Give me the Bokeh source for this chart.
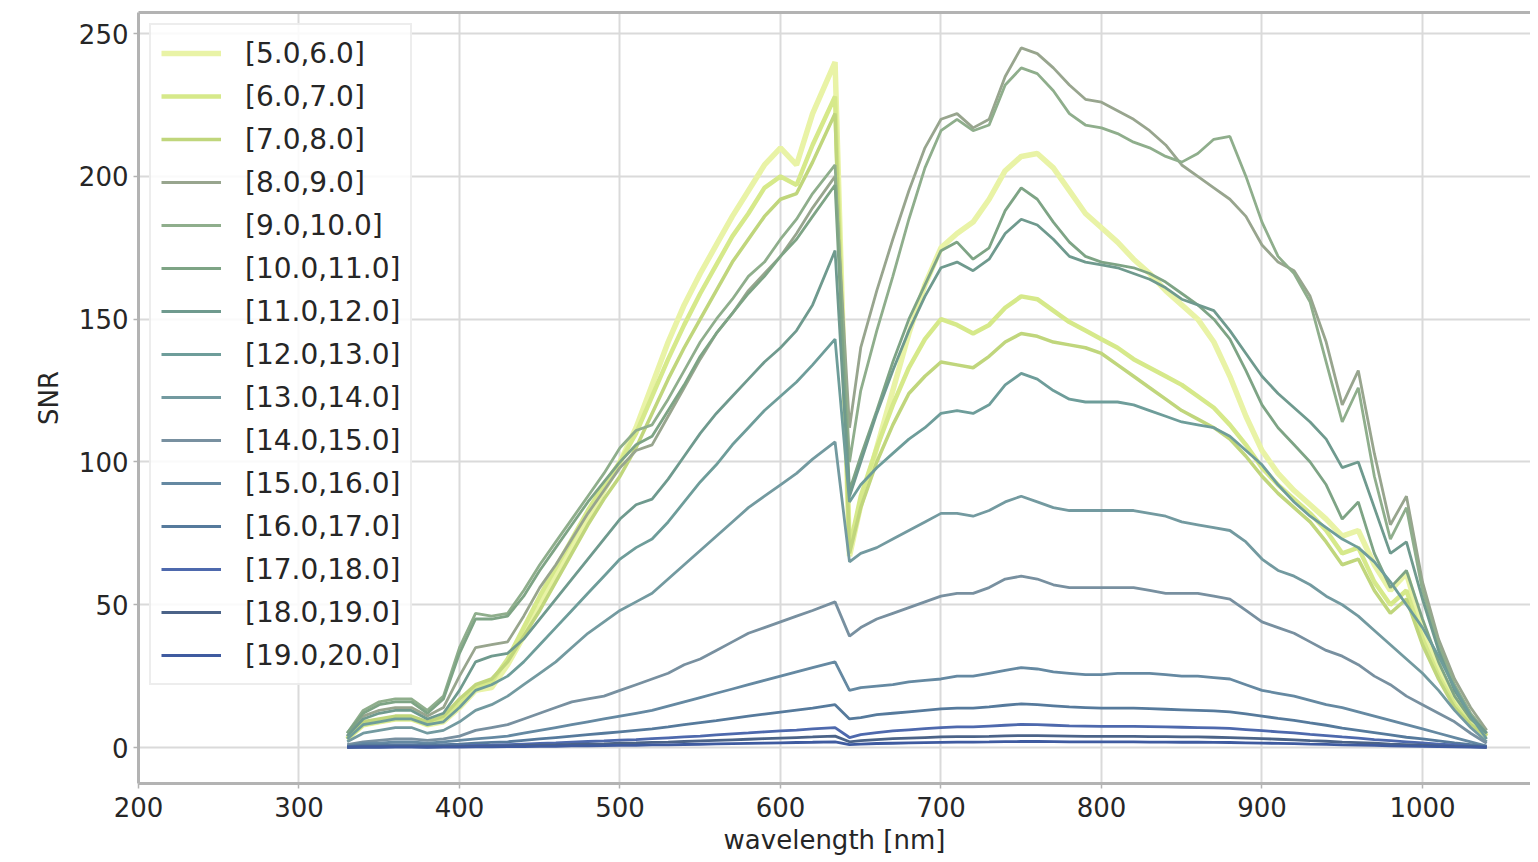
from bokeh.plotting import figure
from bokeh.models import Range1d, FixedTicker, LinearAxis
from bokeh.embed import file_html
from bokeh.resources import INLINE

wavelength = [330, 340, 350, 360, 370, 380, 390, 400, 410, 420, 430, 440, 450, 460, 470,
              480, 490, 500, 510, 520, 530, 540, 550, 560, 570, 580, 590, 600, 610, 620,
              634, 643, 650, 660, 670, 680, 690, 700, 710, 720, 730, 740, 750, 760, 770,
              780, 790, 800, 810, 820, 830, 840, 850, 860, 870, 880, 890, 900, 910, 920,
              930, 940, 950, 960, 970, 980, 990, 1000, 1010, 1020, 1030, 1040]

labels = ["[5.0,6.0]", "[6.0,7.0]", "[7.0,8.0]", "[8.0,9.0]", "[9.0,10.0]",
          "[10.0,11.0]", "[11.0,12.0]", "[12.0,13.0]", "[13.0,14.0]", "[14.0,15.0]",
          "[15.0,16.0]", "[16.0,17.0]", "[17.0,18.0]", "[18.0,19.0]", "[19.0,20.0]"]

snr_05_06 = [3, 8, 9, 10, 10, 8, 9, 14, 20, 21, 29, 39, 50, 60, 70, 80, 90, 100, 112, 127,
             142, 155, 166, 176, 186, 195, 204, 210, 204, 222, 240,
             67, 85, 105, 125, 145, 162, 175, 180, 184, 192, 202, 207, 208, 203, 195, 187,
             182, 177, 171, 166, 160, 155, 150, 142, 130, 116, 104, 96, 90, 85, 80, 74, 76,
             64, 55, 61, 42, 28, 17, 9, 4]
snr_06_07 = [3, 8, 9, 10, 10, 8, 10, 15, 21, 23, 31, 42, 53, 63, 73, 83, 92, 100, 110, 123,
             136, 148, 159, 169, 179, 187, 196, 200, 197, 211, 228,
             70, 88, 105, 120, 133, 143, 150, 148, 145, 148, 154, 158, 157, 153, 149, 146,
             143, 140, 136, 133, 130, 127, 123, 119, 113, 106, 98, 92, 87, 82, 76, 68, 70,
             58, 50, 55, 38, 25, 15, 8, 4]
snr_07_08 = [3, 9, 10, 11, 11, 9, 11, 17, 22, 24, 30, 39, 48, 58, 68, 78, 87, 95, 105, 117,
             129, 140, 150, 160, 170, 178, 186, 192, 194, 205, 222,
             68, 84, 100, 113, 124, 130, 135, 134, 133, 137, 142, 145, 144, 142, 141, 140,
             138, 134, 130, 126, 122, 118, 115, 112, 108, 102, 95, 89, 84, 79, 72, 64, 66,
             55, 47, 52, 36, 24, 14, 8, 4]
snr_08_09 = [4, 11, 13, 14, 14, 11, 14, 25, 35, 36, 37, 46, 56, 64, 73, 82, 90, 98, 104, 106,
             116, 126, 136, 145, 152, 160, 166, 172, 180, 189, 200,
             112, 140, 160, 178, 195, 210, 220, 222, 217, 220, 235, 245, 243, 238, 232, 227,
             226, 223, 220, 216, 211, 204, 200, 196, 192, 186, 176, 170, 167, 158, 142, 120,
             132, 103, 78, 88, 58, 38, 24, 14, 6]
snr_09_10 = [5, 13, 16, 17, 17, 13, 18, 35, 47, 46, 47, 55, 64, 72, 80, 88, 96, 105, 111, 113,
             122, 132, 142, 150, 157, 165, 170, 178, 185, 194, 204,
             100, 125, 146, 165, 185, 203, 216, 220, 216, 218, 232, 238, 236, 230, 222, 218,
             217, 215, 212, 210, 207, 205, 208, 213, 214, 200, 184, 172, 166, 156, 135, 114,
             126, 95, 73, 84, 55, 36, 22, 12, 5]
snr_10_11 = [5, 12, 15, 16, 16, 12, 17, 33, 45, 45, 46, 53, 62, 70, 78, 86, 93, 100, 106, 109,
             118, 127, 137, 145, 152, 159, 165, 172, 178, 186, 197,
             90, 102, 118, 135, 150, 162, 174, 177, 171, 175, 188, 196, 192, 184, 177, 172,
             170, 169, 168, 166, 163, 159, 155, 150, 143, 132, 120, 112, 106, 100, 92, 80,
             86, 68, 56, 62, 45, 30, 18, 10, 5]
snr_11_12 = [4, 10, 12, 13, 13, 10, 12, 20, 30, 32, 33, 38, 45, 52, 59, 66, 73, 80, 85, 87,
             94, 102, 110, 117, 123, 129, 135, 140, 146, 155, 174,
             88, 100, 117, 132, 146, 158, 168, 170, 167, 171, 180, 185, 183, 178, 172, 170,
             169, 168, 166, 164, 161, 157, 155, 153, 146, 138, 130, 124, 119, 114, 108, 98,
             100, 84, 68, 72, 52, 34, 20, 11, 5]
snr_12_13 = [3, 8, 9, 10, 10, 8, 9, 14, 20, 22, 25, 30, 36, 42, 48, 54, 60, 66, 70, 73,
             79, 86, 93, 99, 106, 112, 118, 123, 128, 134, 143,
             86, 92, 98, 103, 108, 112, 117, 118, 117, 120, 127, 131, 129, 125, 122, 121,
             121, 121, 120, 118, 116, 114, 113, 112, 109, 104, 99, 92, 86, 81, 77, 73, 70,
             65, 58, 50, 42, 32, 21, 11, 3]
snr_13_14 = [2, 5, 6, 7, 7, 5, 6, 9, 13, 15, 18, 22, 26, 30, 35, 40, 44, 48, 51, 54,
             59, 64, 69, 74, 79, 84, 88, 92, 96, 101, 107,
             65, 68, 70, 73, 76, 79, 82, 82, 81, 83, 86, 88, 86, 84, 83, 83, 83, 83, 83, 82,
             81, 79, 78, 77, 76, 72, 66, 62, 60, 57, 53, 50, 46, 41, 36, 31, 26, 20, 13, 7, 2]
snr_14_15 = [1, 2, 2.5, 3, 3, 2.5, 3, 4, 6, 7, 8, 10, 12, 14, 16, 17, 18, 20, 22, 24,
             26, 29, 31, 34, 37, 40, 42, 44, 46, 48, 51,
             39, 42, 45, 47, 49, 51, 53, 54, 54, 56, 59, 60, 59, 57, 56, 56, 56, 56, 56, 55,
             54, 54, 54, 53, 52, 48, 44, 42, 40, 37, 34, 32, 29, 25, 22, 18, 15, 12, 9, 5, 1.5]
snr_15_16 = [0.5, 1.5, 1.5, 2, 2, 1.5, 2, 2.5, 3, 3.5, 4, 5, 6, 7, 8, 9, 10, 11, 12, 13,
             14.5, 16, 17.5, 19, 20.5, 22, 23.5, 25, 26.5, 28, 30,
             20, 21, 21.5, 22, 23, 23.5, 24, 25, 25, 26, 27, 28, 27.5, 26.5, 26, 25.5, 25.5,
             26, 26, 26, 25.5, 25, 25, 24.5, 24, 22, 20, 19, 18, 16.5, 15, 14, 12.5, 11, 9.5,
             8, 6.5, 5, 3.5, 2, 0.5]
snr_16_17 = [0.3, 0.8, 0.8, 1, 1, 0.8, 1, 1.2, 1.5, 1.8, 2, 2.5, 3, 3.5, 4, 4.5, 5, 5.5, 6,
             6.5, 7.2, 8, 8.7, 9.4, 10.2, 11, 11.7, 12.4, 13.1, 13.8, 15,
             10, 10.5, 11.5, 12, 12.5, 13, 13.5, 13.8, 13.8, 14.2, 14.8, 15.3, 15, 14.6, 14.2,
             14, 13.8, 13.8, 13.8, 13.6, 13.4, 13.2, 13, 12.8, 12.5, 11.8, 11, 10.2, 9.5, 8.6,
             7.8, 6.8, 6, 5.2, 4.4, 3.6, 3, 2.3, 1.6, 1, 0.4]
snr_17_18 = [0.2, 0.4, 0.4, 0.5, 0.5, 0.4, 0.5, 0.6, 0.7, 0.8, 1, 1.2, 1.4, 1.6, 1.9, 2.1,
             2.3, 2.6, 2.8, 3.1, 3.4, 3.7, 4, 4.4, 4.8, 5.1, 5.5, 5.8, 6.1, 6.5, 7,
             3.5, 4.5, 5.2, 5.8, 6.2, 6.6, 7, 7.2, 7.2, 7.5, 7.8, 8.1, 8, 7.8, 7.6, 7.5, 7.4,
             7.4, 7.4, 7.3, 7.2, 7.1, 7, 6.9, 6.7, 6.3, 5.9, 5.5, 5.1, 4.6, 4.2, 3.7, 3.3,
             2.8, 2.4, 2, 1.6, 1.2, 0.9, 0.5, 0.2]
snr_18_19 = [0.1, 0.2, 0.2, 0.3, 0.3, 0.2, 0.3, 0.3, 0.4, 0.5, 0.6, 0.7, 0.8, 0.9, 1.1, 1.2,
             1.3, 1.5, 1.6, 1.8, 1.9, 2.1, 2.3, 2.5, 2.7, 2.9, 3.1, 3.3, 3.5, 3.7, 4,
             2, 2.4, 2.8, 3.1, 3.3, 3.5, 3.7, 3.8, 3.8, 3.9, 4.1, 4.2, 4.2, 4.1, 4, 3.9, 3.9,
             3.9, 3.9, 3.8, 3.8, 3.7, 3.7, 3.6, 3.5, 3.3, 3.1, 2.9, 2.7, 2.4, 2.2, 1.9, 1.7,
             1.5, 1.2, 1, 0.8, 0.6, 0.4, 0.3, 0.1]
snr_19_20 = [0.05, 0.1, 0.1, 0.15, 0.15, 0.1, 0.15, 0.15, 0.2, 0.25, 0.3, 0.35, 0.4, 0.45,
             0.55, 0.6, 0.65, 0.75, 0.8, 0.9, 0.95, 1.05, 1.15, 1.25, 1.35, 1.45, 1.55, 1.65,
             1.75, 1.85, 2,
             1, 1.2, 1.4, 1.5, 1.6, 1.7, 1.8, 1.9, 1.9, 1.95, 2.05, 2.1, 2.1, 2.05, 2, 1.95,
             1.95, 1.95, 1.95, 1.9, 1.9, 1.85, 1.85, 1.8, 1.75, 1.65, 1.55, 1.45, 1.35, 1.2,
             1.1, 0.95, 0.85, 0.75, 0.6, 0.5, 0.4, 0.3, 0.2, 0.15, 0.05]

series = [snr_05_06, snr_06_07, snr_07_08, snr_08_09, snr_09_10, snr_10_11, snr_11_12,
          snr_12_13, snr_13_14, snr_14_15, snr_15_16, snr_16_17, snr_17_18, snr_18_19,
          snr_19_20]

colors = ["#e9f3a6", "#d6e98a", "#c0d67c", "#98a58e", "#8fae8c", "#7ea485", "#6f9a8e",
          "#6e9d9a", "#739aa0", "#7890a0", "#6589a2", "#567a9c", "#4e69ad", "#4b6388",
          "#3f5ba0"]
widths = [5.5, 4.5, 3.5, 2.8, 2.8, 2.8, 2.8, 2.8, 2.8, 2.8, 2.8, 2.8, 2.8, 2.8, 2.8]

FONT = "DejaVu Sans"
GRID = "#dadada"
SPINE = "#b3b3b3"

p = figure(width=1530, height=862,
           x_range=Range1d(200, 1067.3), y_range=Range1d(-12.6, 257.4),
           output_backend="svg", toolbar_location=None,
           min_border_left=138, min_border_right=0, min_border_top=12,
           min_border_bottom=79, background_fill_color="white",
           border_fill_color="white")
p.outline_line_color = None

for vals, lab, col, w in zip(series, labels, colors, widths):
    p.line(wavelength, vals, line_color=col, line_width=w, legend_label=lab)

xt = FixedTicker(ticks=[200, 300, 400, 500, 600, 700, 800, 900, 1000])
yt = FixedTicker(ticks=[0, 50, 100, 150, 200, 250])

for ax, tk in ((p.xaxis[0], xt), (p.yaxis[0], yt)):
    ax.ticker = tk
    ax.major_label_text_font = FONT
    ax.major_label_text_font_size = "26px"
    ax.major_label_text_color = "#262626"
    ax.major_tick_out = 5
    ax.major_tick_in = 0
    ax.major_tick_line_color = SPINE
    ax.major_tick_line_width = 1.5
    ax.minor_tick_line_color = None
    ax.axis_line_color = SPINE
    ax.axis_line_width = 3
    ax.major_label_standoff = 6
    ax.axis_label_text_font = FONT
    ax.axis_label_text_font_size = "26px"
    ax.axis_label_text_font_style = "normal"
    ax.axis_label_text_color = "#262626"

p.xaxis[0].axis_label = "wavelength [nm]"
p.xaxis[0].major_label_standoff = 8
p.xaxis[0].axis_label_standoff = 5
p.yaxis[0].axis_label = "SNR"
p.yaxis[0].major_label_standoff = 5
p.yaxis[0].axis_label_standoff = 12

p.xgrid.ticker = xt
p.ygrid.ticker = yt
p.xgrid.grid_line_color = GRID
p.ygrid.grid_line_color = GRID
p.xgrid.grid_line_width = 2
p.ygrid.grid_line_width = 2

top = LinearAxis(ticker=FixedTicker(ticks=[]), major_label_text_font_size="0px",
                 axis_line_color=SPINE, axis_line_width=3,
                 major_tick_line_color=None, minor_tick_line_color=None)
p.add_layout(top, "above")

lg = p.legend[0]
lg.location = "top_left"
lg.margin = 11
lg.padding = 10
lg.spacing = 7
lg.glyph_height = 36
lg.glyph_width = 60
lg.label_height = 36
lg.label_standoff = 24
lg.label_text_font = FONT
lg.label_text_font_size = "28px"
lg.label_text_color = "#262626"
lg.border_line_color = "#dcdcdc"
lg.border_line_width = 2
lg.background_fill_color = "white"
lg.background_fill_alpha = 0.85

open("out.html", "w").write(file_html(p, INLINE))
